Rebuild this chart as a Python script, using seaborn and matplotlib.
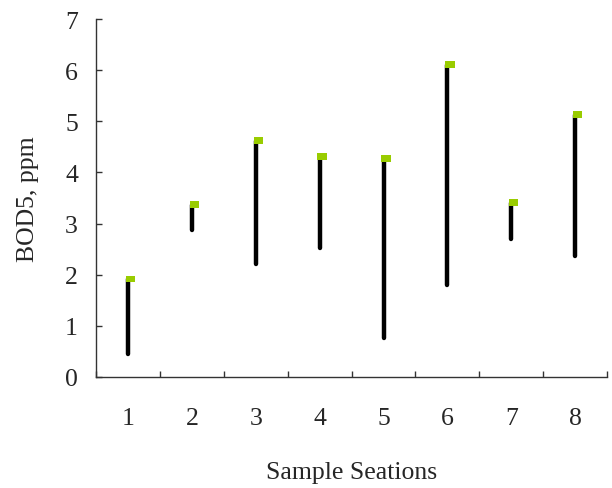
import numpy as np
import pandas as pd
import matplotlib
matplotlib.use("Agg")
import matplotlib.pyplot as plt
import matplotlib.transforms as mtransforms
from matplotlib.ticker import FixedLocator
import seaborn as sns

stations = ["1", "2", "3", "4", "5", "6", "7", "8"]
bod_high = [1.92, 3.37, 4.62, 4.31, 4.27, 6.11, 3.41, 5.13]
bod_low = [0.45, 2.88, 2.20, 2.53, 0.76, 1.79, 2.69, 2.36]
y_ticks = [0, 1, 2, 3, 4, 5, 6, 7]

sns.set_theme(style="ticks")
plt.rcParams["font.family"] = ["Liberation Serif", "DejaVu Serif"]

pos = np.arange(len(stations))
df = pd.DataFrame({
    "station": np.concatenate([pos, pos]),
    "bod": bod_low + bod_high,
    "unit": np.concatenate([pos, pos]),
})
top = pd.DataFrame({"station": pos, "bod": bod_high})

fig = plt.figure(figsize=(6.12, 4.89), dpi=100)
ax = fig.add_axes([0.157, 0.227, 0.835, 0.732])

sns.lineplot(data=df, x="station", y="bod", units="unit", estimator=None,
             color="black", linewidth=3.2, ax=ax, legend=False,
             solid_capstyle="round")

offset = mtransforms.ScaledTranslation(2.5 / 100, 0, fig.dpi_scale_trans)
rect = [(-1, -0.7), (1, -0.7), (1, 0.7), (-1, 0.7), (-1, -0.7)]
sns.scatterplot(data=top, x="station", y="bod", marker=rect, s=45,
                color="#99cc00", edgecolor="none", ax=ax, legend=False,
                transform=ax.transData + offset, zorder=5)

fs = 18.5
ax.set_xlim(-0.5, len(stations) - 0.5)
ax.set_ylim(0, 7)
ax.set_yticks(y_ticks)
ax.set_yticklabels([str(t) for t in y_ticks])
ax.set_xticks(pos)
ax.set_xticklabels(stations)
ax.xaxis.set_minor_locator(FixedLocator(np.arange(len(stations) + 1) - 0.5))
ax.tick_params(axis="x", which="major", length=0, pad=21.5, labelsize=fs)
ax.tick_params(axis="x", which="minor", length=4, direction="in", width=1, color="#333333")
ax.tick_params(axis="y", direction="in", length=4, width=1, pad=13, labelsize=fs, color="#333333")

for s in ["top", "right"]:
    ax.spines[s].set_visible(False)
for s in ["left", "bottom"]:
    ax.spines[s].set_color("#333333")
    ax.spines[s].set_linewidth(1)

ax.set_xlabel("Sample Seations", fontsize=fs, labelpad=23)
ax.set_ylabel("BOD5, ppm", fontsize=fs, labelpad=19)

fig.savefig("out.png", dpi=100)
